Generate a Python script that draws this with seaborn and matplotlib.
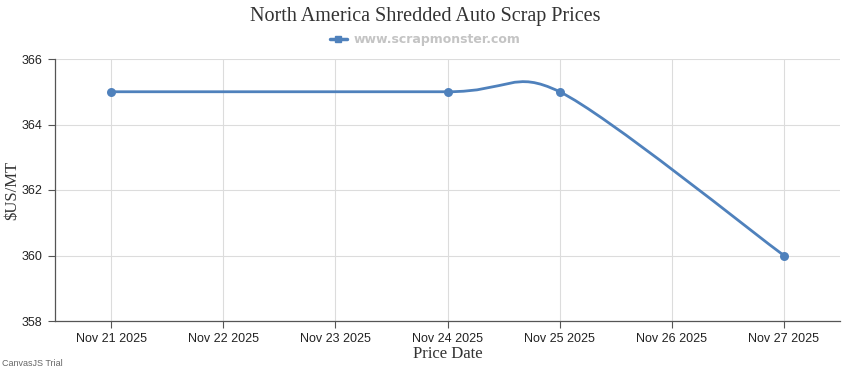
import matplotlib
matplotlib.use("Agg")
import matplotlib.pyplot as plt
from matplotlib.path import Path
from matplotlib.patches import PathPatch
from matplotlib.lines import Line2D
import seaborn as sns
import pandas as pd

# ---- data ----
dates = ["Nov 21 2025", "Nov 22 2025", "Nov 23 2025", "Nov 24 2025",
         "Nov 25 2025", "Nov 26 2025", "Nov 27 2025"]
point_dates = ["Nov 21 2025", "Nov 24 2025", "Nov 25 2025", "Nov 27 2025"]
prices = [365, 365, 365, 360]
y_ticks = [358, 360, 362, 364, 366]

title = "North America Shredded Auto Scrap Prices"
legend_label = "www.scrapmonster.com"
color = "#4F81BC"

sns.set_theme(style="white")
plt.rcParams["font.family"] = ["Liberation Sans", "DejaVu Sans"]

df = pd.DataFrame({"x": [dates.index(d) for d in point_dates], "price": prices})

fig = plt.figure(figsize=(8.5, 3.7), dpi=100)
ax = fig.add_axes([55 / 850, 49 / 370, 785 / 850, 262 / 370])

# CanvasJS-style spline (cardinal bezier through the data points)
tension = 2.4
xs, ys = list(df["x"]), list(df["price"])
n = len(xs)
verts = [(xs[0], ys[0])]
codes = [Path.MOVETO]
for i in range(1, n):
    p = i - 1
    a, b = max(p - 1, 0), min(p + 1, n - 1)
    c1 = (xs[p] + (xs[b] - xs[a]) / tension / 3,
          ys[p] + (ys[b] - ys[a]) / tension / 3)
    a, b = max(i - 1, 0), min(i + 1, n - 1)
    c2 = (xs[i] - (xs[b] - xs[a]) / tension / 3,
          ys[i] - (ys[b] - ys[a]) / tension / 3)
    verts += [c1, c2, (xs[i], ys[i])]
    codes += [Path.CURVE4] * 3
ax.add_patch(PathPatch(Path(verts, codes), fill=False, edgecolor=color,
                       linewidth=2, zorder=3))

sns.scatterplot(data=df, x="x", y="price", ax=ax, color=color, s=42,
                edgecolor=color, linewidth=0, zorder=4, legend=False)

ax.set_xlim(-0.5, len(dates) - 0.5)
ax.set_ylim(y_ticks[0], y_ticks[-1])
ax.set_xticks(range(len(dates)))
ax.set_xticklabels(dates, fontsize=9, color="#222222")
ax.set_yticks(y_ticks)
ax.set_yticklabels([str(v) for v in y_ticks], fontsize=9, color="#222222")

ax.grid(True, color="#dcdcdc", linewidth=0.8)
ax.set_axisbelow(True)
for s in ["top", "right"]:
    ax.spines[s].set_visible(False)
for s in ["left", "bottom"]:
    ax.spines[s].set_color("#555555")
    ax.spines[s].set_linewidth(0.9)
ax.tick_params(axis="both", which="both", length=5, width=0.8, color="#555555",
               direction="out", left=True, bottom=True, pad=4)

ax.set_xlabel("Price Date", family=["Liberation Serif"], fontsize=12,
              color="#333333", labelpad=0)
ax.set_ylabel("")
fig.text(12 / 850, 1 - 190 / 370, "$US/MT", rotation=90, ha="center",
         va="center", family=["Liberation Serif"], fontsize=12, color="#333333")

fig.text(0.5, 1 - 16 / 370, title, ha="center", va="center",
         family=["Liberation Serif"], fontsize=14.5, color="#333333")

# legend
handle = Line2D([], [], color=color, linewidth=2.5, marker="s", markersize=4.5)
leg = fig.legend([handle], [legend_label], loc="center",
                 bbox_to_anchor=(0.5, 1 - 40 / 370), frameon=False,
                 handlelength=1.4, handletextpad=0.5,
                 prop={"family": "DejaVu Sans", "weight": "bold", "size": 9})
for t in leg.get_texts():
    t.set_color("#c4c4c4")

fig.text(2 / 850, 1 - 363 / 370, "CanvasJS Trial", ha="left", va="center",
         fontsize=6.5, color="#666666")

fig.savefig("out.png", dpi=100)
